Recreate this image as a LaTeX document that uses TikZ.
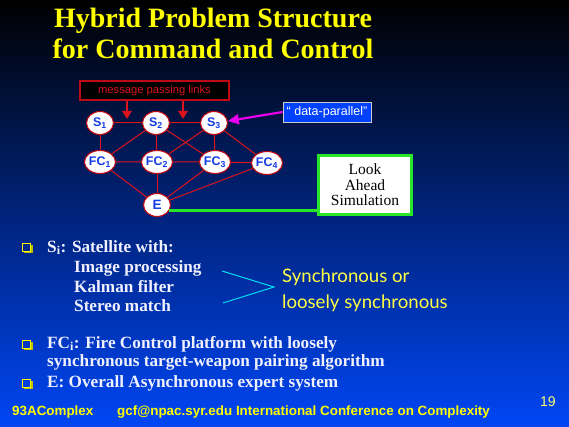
\documentclass[tikz,border=0pt]{standalone}
\usepackage{fontspec}
\setmainfont{Liberation Serif}
\setsansfont{Liberation Sans}
\newfontfamily\optfont{Lato}
\usetikzlibrary{arrows.meta,positioning,shapes.geometric,calc}
\definecolor{ccnavy}{RGB}{0,35,150}
\definecolor{ccblue}{RGB}{0,70,245}
\definecolor{cclabel}{RGB}{20,60,230}
\definecolor{ccred}{RGB}{220,20,30}
\definecolor{ccdarkred}{RGB}{190,10,20}
\definecolor{ccyellow}{RGB}{255,255,0}
\definecolor{ccsync}{RGB}{255,255,70}
\definecolor{ccwhite}{RGB}{240,240,255}
\definecolor{cccyan}{RGB}{0,220,240}
\definecolor{ccgreen}{RGB}{40,230,40}
\definecolor{ccmagenta}{RGB}{235,0,235}
\definecolor{ccdp}{RGB}{0,64,255}
\tikzset{
  pnode/.style={ellipse, draw=ccdarkred, line width=1.1pt, fill=white, inner sep=0pt,
                minimum width=27pt, minimum height=23pt, text=cclabel,
                font=\sffamily\bfseries\fontsize{12.5}{12.5}\selectfont},
  plink/.style={draw=ccred, line width=1pt},
  msgbox/.style={draw=ccdarkred, line width=1.2pt, fill=black, text=ccred,
                 font=\sffamily\fontsize{11.2}{11.2}\selectfont,
                 minimum width=149pt, minimum height=19pt, inner sep=0pt},
  msgarrow/.style={draw=ccred, line width=2pt, -{Triangle[length=8pt,width=9pt]}},
  dpbox/.style={draw=black!20, line width=0.8pt, fill=ccdp, text=white,
                font=\sffamily\fontsize{12.5}{12.5}\selectfont,
                minimum width=88pt, minimum height=20pt, inner sep=0pt},
  dparrow/.style={draw=ccmagenta, line width=2.2pt, -{Triangle[length=11pt,width=10pt]}},
  lookbox/.style={draw=ccgreen, line width=3pt, fill=white, align=center,
                  font=\fontsize{15.5}{15.5}\selectfont,
                  minimum width=93pt, minimum height=59pt, inner sep=0pt},
  glink/.style={draw=ccgreen, line width=3pt},
  syncline/.style={draw=cccyan, line width=1pt},
  ttext/.style={anchor=base, inner sep=0pt, text=ccyellow,
                font=\bfseries\fontsize{28}{28}\selectfont},
  btext/.style={anchor=base west, inner sep=0pt, text=ccwhite,
                font=\bfseries\fontsize{17.2}{18.5}\selectfont},
  stext/.style={anchor=base west, inner sep=0pt, text=ccsync,
                font=\optfont\fontsize{18.6}{18.6}\selectfont},
  ftext/.style={anchor=base west, inner sep=0pt, text=ccyellow,
                font=\sffamily\bfseries\fontsize{13.4}{13.4}\selectfont},
}

\begin{document}
\begin{tikzpicture}[x=1pt, y=-1pt]
  % Background
  \useasboundingbox (0,0) rectangle (569,427);
  \shade[top color=black, middle color=ccnavy, bottom color=ccblue] (0,0) rectangle (569,427);

  % Title
  \node[ttext] (t1) at (213,28) {Hybrid Problem Structure};
  \node[ttext] (t2) at (213,59) {for Command and Control};

  % Processes
  \node[pnode] (s1) at (100,123) {S\textsubscript{1}};
  \node[pnode] (s2) at (156,123) {S\textsubscript{2}};
  \node[pnode] (s3) at (214,123) {S\textsubscript{3}};
  \node[pnode] (fc1) at (100,162) {FC\textsubscript{1}};
  \node[pnode] (fc2) at (157,162) {FC\textsubscript{2}};
  \node[pnode] (fc3) at (215,162) {FC\textsubscript{3}};
  \node[pnode] (fc4) at (267,163) {FC\textsubscript{4}};
  \node[pnode, font=\sffamily\bfseries\fontsize{13.5}{13.5}\selectfont] (e) at (157,205) {E};

  % Links
  \draw[plink] (s1) -- (s2) -- (s3);
  \draw[plink] (fc1) -- (fc2) -- (fc3) -- (fc4);
  \draw[plink] (s1) -- (fc1);
  \foreach \a/\b in {s2/fc1, s2/fc2, s2/fc3, s3/fc2, s3/fc3, s3/fc4,
                     fc1/e, fc2/e, fc3/e, fc4/e}
    \draw[plink] (\a) -- (\b);

  % Message passing label
  \node[msgbox] (msg) at (154.5,90.5) {message passing links};
  \coordinate (m1) at (127,119);
  \coordinate (m2) at (183,119);
  \draw[msgarrow] (msg.south -| m1) -- (m1);
  \draw[msgarrow] (msg.south -| m2) -- (m2);

  % Data parallel label
  \node[dpbox] (dp) at (327,112) {“ data-parallel”};
  \draw[dparrow] (dp.west) -- (s3.8);

  % Look ahead
  \node[lookbox] (look) at (365,185) {Look\\Ahead\\Simulation};
  \draw[glink] (e.-25) -- (e.-25 -| look.west);

  % Bullets
  \foreach \y in {248,345,384} {
    \draw[ccyellow!75!black, line width=1.6pt] (24,\y+4.4) -- (32,\y+4.4) -- (32,\y-3.2);
    \draw[ccyellow, line width=1pt] (22.5,\y-4.5) rectangle (30.5,\y+3.5);
  }

  % Satellite text
  \node[btext] (si) at (47,252) {S\textsubscript{i}: Satellite with:};
  \node[btext] (img) at (74,272) {Image processing};
  \node[btext] (kal) at (74,292) {Kalman filter};
  \node[btext] (ste) at (74,311) {Stereo match};

  % Synchronous bracket
  \coordinate (c1) at (222,271);
  \coordinate (c2) at (274,287);
  \coordinate (c3) at (223,303);
  \draw[syncline] (c1) -- (c2) -- (c3);
  \node[stext] (sync1) at (282,282) {Synchronous or};
  \node[stext] (sync2) at (282,308) {loosely synchronous};

  % Fire control and expert text
  \node[btext, align=left] (fc) at (47,366.5)
    {FC\textsubscript{i}: Fire Control platform with loosely\\
     synchronous target-weapon pairing algorithm};
  \node[btext] (ex) at (47,387) {E: Overall Asynchronous expert system};

  % Footer
  \node[ftext] (tag) at (12,415) {93AComplex};
  \node[ftext] (conf) at (117,415) {gcf@npac.syr.edu International Conference on Complexity};
  \node[ftext, font=\sffamily\fontsize{14}{14}\selectfont, text=ccyellow!55!white] (pg) at (540,406) {19};
\end{tikzpicture}
\end{document}
